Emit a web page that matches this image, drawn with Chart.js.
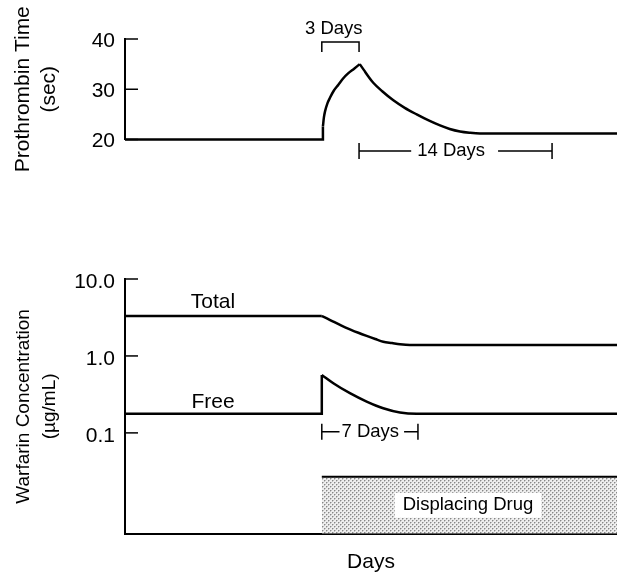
<!DOCTYPE html>
<html>
<head>
<meta charset="utf-8">
<script src="https://cdn.jsdelivr.net/npm/chart.js@4"></script>
<style>
  html, body { margin: 0; padding: 0; background: #fff; }
  #wrap { position: relative; width: 617px; height: 576px; }
  canvas { position: absolute; left: 0; }
  #top { top: 0; }
  #bottom { top: 200px; }
</style>
</head>
<body>
<div id="wrap">
  <canvas id="top" width="617" height="200"></canvas>
  <canvas id="bottom" width="617" height="376"></canvas>
</div>
<script>
const FONT = '"Liberation Sans", Arial, Helvetica, sans-serif';
Chart.defaults.font.family = FONT;
Chart.defaults.color = '#000';

// days counted from the start of the displacing drug
const dayMin = -14;
const dayMax = 21;

// prothrombin time (sec): flat baseline, jump, rise to the peak
const ptBaseDays = [-14, 0.08, 0.08];
const ptBaseSec  = [20, 20, 22.6];
const ptRiseDays = [0.08, 0.15, 0.23, 0.4, 0.58, 0.85, 1.18, 1.5, 1.89, 2.3, 2.7];
const ptRiseSec  = [22.6, 24.4, 25.6, 27.2, 28.3, 29.7, 30.9, 32.1, 33.2, 34.1, 35.0];
// ... then the slow fall back
const ptFallDays = [2.7, 3.0, 3.3, 3.66, 4.3, 5.09, 5.9, 6.75, 7.6, 8.41, 9.1, 9.83, 10.5, 11.25, 21];
const ptFallSec  = [35.0, 33.8, 32.6, 31.3, 29.6, 27.8, 26.3, 25.0, 23.8, 22.8, 22.1, 21.6, 21.35, 21.2, 21.2];
const ptTicks = [20, 30, 40];
const ptTickLabels = ['20', '30', '40'];

// warfarin concentration (ug/mL)
const totalBaseDays = [-14, 0];
const totalBaseConc = [3.3, 3.3];
const totalFallDays = [0, 0.4, 0.82, 1.4, 2.0, 2.6, 3.19, 3.8, 4.37, 5.0, 5.56, 6.27, 21];
const totalFallConc = [3.3, 3.05, 2.79, 2.48, 2.22, 2.0, 1.82, 1.66, 1.53, 1.47, 1.42, 1.39, 1.39];
const freeBaseDays = [-14, 0, 0];
const freeBaseConc = [0.177, 0.177, 0.566];
const freeFallDays = [0, 0.82, 2.0, 3.19, 4.37, 5.56, 6.75, 21];
const freeFallConc = [0.566, 0.442, 0.328, 0.255, 0.209, 0.184, 0.177, 0.177];
const concTicks = [0.1, 1, 10];
const concTickLabels = ['0.1', '1.0', '10.0'];

// displacing drug given from day 0 on
const drugDays = [0, 21];
const drugOn = [1, 1];

// annotations: [fromDay, toDay, label, labelDay]
const ptBrackets = [[0, 2.65, '3 Days', 0.85]];
const ptSpans = [[2.65, 16.38, '14 Days', 9.2]];
const concSpans = [[0, 6.84, '7 Days', 3.45]];

const pts = (xs, ys) => xs.map((x, i) => ({ x: x, y: ys[i] }));

function lineSet(data, extra) {
  return Object.assign({
    data: data,
    borderColor: '#000',
    borderWidth: 2.5,
    pointRadius: 0,
    tension: 0,
    fill: false,
    clip: false
  }, extra || {});
}
const smooth = { cubicInterpolationMode: 'monotone' };

function yTitle(lines, size, lh) {
  return { display: true, text: lines, font: { size: size, lineHeight: lh }, padding: { top: 11, bottom: 0 } };
}

const fixWidth = s => { s.width = 125; };

// tick marks pointing into the plot
const innerTicks = {
  id: 'innerTicks',
  afterDraw(chart) {
    const s = chart.scales.y, a = chart.chartArea, ctx = chart.ctx;
    ctx.save();
    ctx.strokeStyle = '#000';
    ctx.lineWidth = 1.5;
    s.ticks.forEach((t, i) => {
      const y = s.getPixelForTick(i);
      ctx.beginPath();
      ctx.moveTo(a.left, y);
      ctx.lineTo(a.left + 13, y);
      ctx.stroke();
    });
    ctx.restore();
  }
};

function drawSpan(ctx, x1, x2, y, label, lx, gl, gr) {
  ctx.font = '18.5px ' + FONT;
  const w = ctx.measureText(label).width;
  ctx.beginPath();
  ctx.moveTo(x1, y - 8); ctx.lineTo(x1, y + 8);
  ctx.moveTo(x2, y - 8); ctx.lineTo(x2, y + 8);
  ctx.moveTo(x1, y); ctx.lineTo(lx - w / 2 - gl, y);
  ctx.moveTo(lx + w / 2 + gr, y); ctx.lineTo(x2, y);
  ctx.stroke();
  ctx.fillText(label, lx, y);
}

const topNotes = {
  id: 'topNotes',
  afterDraw(chart) {
    const x = chart.scales.x, a = chart.chartArea, ctx = chart.ctx;
    ctx.save();
    ctx.strokeStyle = '#000';
    ctx.fillStyle = '#000';
    ctx.lineWidth = 1.5;
    ctx.textAlign = 'center';
    ctx.textBaseline = 'middle';
    ctx.font = '18.5px ' + FONT;
    ptBrackets.forEach(b => {
      const x1 = x.getPixelForValue(b[0]), x2 = x.getPixelForValue(b[1]);
      const y = a.top + 3;
      ctx.beginPath();
      ctx.moveTo(x1, y + 10); ctx.lineTo(x1, y); ctx.lineTo(x2, y); ctx.lineTo(x2, y + 10);
      ctx.stroke();
      ctx.fillText(b[2], x.getPixelForValue(b[3]), a.top - 10.5);
    });
    ptSpans.forEach(b => {
      drawSpan(ctx, x.getPixelForValue(b[0]), x.getPixelForValue(b[1]), a.bottom + 11.5,
        b[2], x.getPixelForValue(b[3]), 6, 13);
    });
    ctx.restore();
  }
};

const bottomNotes = {
  id: 'bottomNotes',
  afterDraw(chart) {
    const x = chart.scales.x, y = chart.scales.y, yd = chart.scales.yDrug, ctx = chart.ctx;
    ctx.save();
    ctx.strokeStyle = '#000';
    ctx.fillStyle = '#000';
    ctx.lineWidth = 1.5;
    ctx.textAlign = 'center';
    ctx.textBaseline = 'middle';
    ctx.font = '21px ' + FONT;
    const lx = x.getPixelForValue(-7.74);
    ctx.fillText('Total', lx, y.getPixelForValue(totalBaseConc[0]) - 14);
    ctx.fillText('Free', lx, y.getPixelForValue(freeBaseConc[0]) - 12);
    concSpans.forEach(b => {
      drawSpan(ctx, x.getPixelForValue(b[0]), x.getPixelForValue(b[1]), y.getPixelForValue(freeBaseConc[0]) + 18,
        b[2], x.getPixelForValue(b[3]), 2, 5);
    });
    // drug label
    ctx.font = '18.5px ' + FONT;
    const label = 'Displacing Drug';
    const w = ctx.measureText(label).width;
    const cx = x.getPixelForValue(10.4), cy = yd.getPixelForValue(0.5);
    ctx.fillStyle = '#fff';
    ctx.fillRect(cx - w / 2 - 8, cy - 12.5, w + 16, 25);
    ctx.fillStyle = '#000';
    ctx.fillText(label, cx, cy);
    ctx.restore();
  }
};

function stipple(target) {
  const c = document.createElement('canvas');
  c.width = 4; c.height = 4;
  const g = c.getContext('2d');
  g.fillStyle = '#eeeeee'; g.fillRect(0, 0, 4, 4);
  g.fillStyle = '#c0c0c0';
  g.fillRect(1, 0, 1, 1); g.fillRect(0, 1, 1, 1); g.fillRect(3, 2, 1, 1); g.fillRect(2, 3, 1, 1);
  g.fillStyle = '#888888';
  g.fillRect(0, 0, 1, 1); g.fillRect(2, 2, 1, 1);
  return target.getContext('2d').createPattern(c, 'repeat');
}

const common = {
  responsive: false,
  animation: false,
  events: [],
  plugins: { legend: { display: false }, tooltip: { enabled: false } }
};

new Chart(document.getElementById('top'), {
  type: 'line',
  data: {
    datasets: [
      lineSet(pts(ptBaseDays, ptBaseSec)),
      lineSet(pts(ptRiseDays, ptRiseSec), smooth),
      lineSet(pts(ptFallDays, ptFallSec), smooth)
    ]
  },
  options: Object.assign({}, common, {
    layout: { padding: { top: 39, bottom: 60.5, left: 0, right: 0 } },
    scales: {
      x: { type: 'linear', min: dayMin, max: dayMax, display: false },
      y: {
        type: 'linear', min: 20, max: 40, bounds: 'data',
        afterBuildTicks: s => { s.ticks = ptTicks.map(v => ({ value: v })); },
        afterFit: fixWidth,
        ticks: {
          font: { size: 21 }, padding: 10, labelOffset: 2, autoSkip: false,
          callback: (v, i) => ptTickLabels[i]
        },
        grid: { display: false, drawTicks: false },
        border: { display: true, color: '#000', width: 2 },
        title: yTitle(['Prothrombin Time', '(sec)'], 21, 1.2)
      }
    }
  }),
  plugins: [innerTicks, topNotes]
});

const bottomCanvas = document.getElementById('bottom');

new Chart(bottomCanvas, {
  type: 'line',
  data: {
    datasets: [
      lineSet(pts(drugDays, drugOn), {
        yAxisID: 'yDrug', borderWidth: 2, fill: 'origin', backgroundColor: stipple(bottomCanvas)
      }),
      lineSet(pts(totalBaseDays, totalBaseConc)),
      lineSet(pts(totalFallDays, totalFallConc), smooth),
      lineSet(pts(freeBaseDays, freeBaseConc)),
      lineSet(pts(freeFallDays, freeFallConc), smooth)
    ]
  },
  options: Object.assign({}, common, {
    layout: { padding: { top: 79, bottom: 1, left: 0, right: 0 } },
    scales: {
      x: {
        type: 'linear', min: dayMin, max: dayMax,
        ticks: { display: false },
        grid: { display: false, drawTicks: false },
        border: { display: true, color: '#000', width: 2 },
        title: { display: true, text: 'Days', font: { size: 21 }, padding: { top: 16, bottom: 0 } }
      },
      y: {
        type: 'logarithmic', min: 0.00488, max: 10, bounds: 'data',
        afterBuildTicks: s => { s.ticks = concTicks.map(v => ({ value: v })); },
        afterFit: fixWidth,
        ticks: {
          font: { size: 21 }, padding: 10, labelOffset: 3, autoSkip: false,
          callback: (v, i) => concTickLabels[i]
        },
        grid: { display: false, drawTicks: false },
        border: { display: true, color: '#000', width: 2 },
        title: yTitle(['Warfarin Concentration', '(\u00b5g/mL)'], 19, 1.37)
      },
      yDrug: { type: 'linear', min: 0, max: 4.47, display: false }
    }
  }),
  plugins: [innerTicks, bottomNotes]
});
</script>
</body>
</html>
